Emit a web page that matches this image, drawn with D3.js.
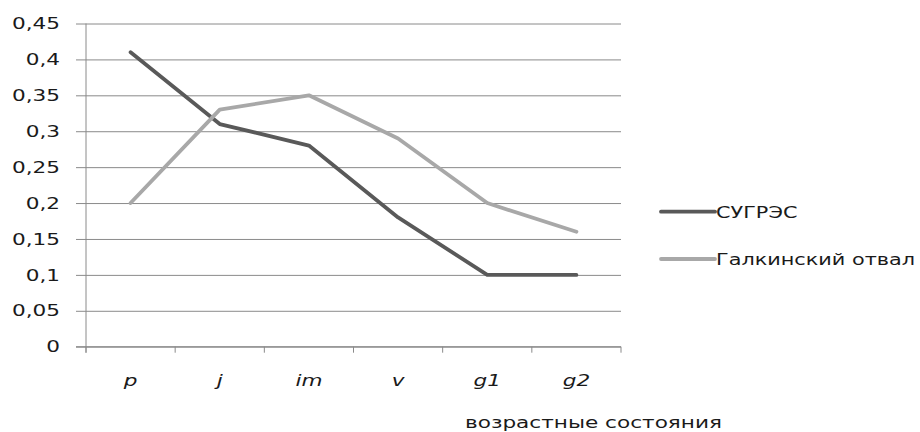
<!DOCTYPE html>
<html>
<head>
<meta charset="utf-8">
<script src="https://cdn.jsdelivr.net/npm/d3@7"></script>
<style>
  html, body { margin: 0; padding: 0; background: #ffffff; }
  svg { display: block; }
  text { font-family: "DejaVu Sans", Verdana, sans-serif; fill: #1a1a1a; }
</style>
</head>
<body>
<svg id="chart" width="920" height="432"></svg>
<script>
const categories = ["p", "j", "im", "v", "g1", "g2"];
const seriesNames = ["СУГРЭС", "Галкинский отвал"];
const sugres = [0.41, 0.31, 0.28, 0.18, 0.10, 0.10];
const galkinsky = [0.20, 0.33, 0.35, 0.29, 0.20, 0.16];
const yTicks = [0, 0.05, 0.1, 0.15, 0.2, 0.25, 0.3, 0.35, 0.4, 0.45];
const yTickLabels = ["0", "0,05", "0,1", "0,15", "0,2", "0,25", "0,3", "0,35", "0,4", "0,45"];
const xTitle = "возрастные состояния";

(function () {
const SX = 1.35; // horizontal stretch of text
const colors = ["#595959", "#a8a8a8"];
const series = [sugres, galkinsky];

const svg = d3.select("#chart");
const pLeft = 86, pRight = 621, pTop = 23.5, pBottom = 346.7;

const x = d3.scaleBand().domain(categories).range([pLeft, pRight]);
const y = d3.scaleLinear().domain([0, 0.45]).range([pBottom, pTop]);

// y axis with gridlines
const yAxis = svg.append("g")
  .attr("transform", `translate(76,0)`)
  .call(d3.axisLeft(y).tickValues(yTicks)
    .tickFormat((d, i) => yTickLabels[i])
    .tickSize(-(pRight - 76)).tickSizeOuter(0).tickPadding(16));
yAxis.select(".domain").remove();
yAxis.selectAll(".tick line").attr("stroke", "#8a8a8a").attr("stroke-width", 1);
yAxis.selectAll(".tick text")
  .attr("font-size", 16)
  .attr("fill", "#1a1a1a")
  .attr("x", -16 / SX)
  .attr("transform", `scale(${SX},1)`);

// vertical axis line
svg.append("line")
  .attr("x1", pLeft).attr("x2", pLeft)
  .attr("y1", y(0.45)).attr("y2", y(0) + 6)
  .attr("stroke", "#8a8a8a").attr("stroke-width", 1);

// x axis baseline and boundary ticks
svg.append("line")
  .attr("x1", 76).attr("x2", pRight)
  .attr("y1", y(0)).attr("y2", y(0))
  .attr("stroke", "#8a8a8a").attr("stroke-width", 1);
const bounds = categories.map(c => x(c)).concat([x.range()[1]]);
svg.append("g").selectAll("line").data(bounds).join("line")
  .attr("x1", d => d).attr("x2", d => d)
  .attr("y1", y(0)).attr("y2", y(0) + 6)
  .attr("stroke", "#8a8a8a").attr("stroke-width", 1);

// x labels
const xAxis = svg.append("g")
  .attr("transform", `translate(0,${y(0)})`)
  .call(d3.axisBottom(x).tickSize(0).tickPadding(28));
xAxis.select(".domain").remove();
xAxis.selectAll(".tick text")
  .attr("font-size", 16)
  .attr("font-style", "italic")
  .attr("fill", "#1a1a1a")
  .attr("transform", `scale(${SX},1)`);

// lines
const line = d3.line()
  .x((d, i) => x(categories[i]) + x.bandwidth() / 2)
  .y(d => y(d));
series.forEach((s, k) => {
  svg.append("path")
    .datum(s)
    .attr("d", line)
    .attr("fill", "none")
    .attr("stroke", colors[k])
    .attr("stroke-width", 3.8)
    .attr("stroke-linejoin", "round")
    .attr("stroke-linecap", "round");
});

// legend
const legendY = [211.7, 259];
const LSX = 1.3;
seriesNames.forEach((name, k) => {
  svg.append("line")
    .attr("x1", 661).attr("x2", 715)
    .attr("y1", legendY[k]).attr("y2", legendY[k])
    .attr("stroke", colors[k]).attr("stroke-width", 3.8)
    .attr("stroke-linecap", "round");
  svg.append("text")
    .attr("transform", `translate(716,${legendY[k] + 5.8}) scale(${LSX},1)`)
    .attr("font-size", 16)
    .text(name);
});

// x axis title
svg.append("text")
  .attr("transform", `translate(465,428) scale(${SX},1)`)
  .attr("font-size", 16)
  .text(xTitle);
})();
</script>
</body>
</html>
